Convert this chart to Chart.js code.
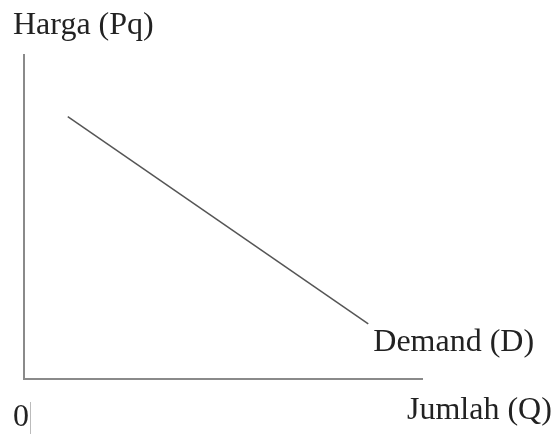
<!DOCTYPE html>
<html>
<head>
<meta charset="utf-8">
<script src="https://cdn.jsdelivr.net/npm/chart.js@4"></script>
<style>
  html, body { margin: 0; padding: 0; background: #fff; }
  #wrap { width: 557px; height: 434px; position: relative; }
</style>
</head>
<body>
<div id="wrap"><canvas id="demandChart"></canvas></div>
<script>
// kurva permintaan: dua titik ujung (Q, P)
const demandQ = [1.1, 8.65];
const demandP = [8.1, 1.7];
const axisMin = 0;
const axisMax = 10;

const yTitle = 'Harga (Pq)';
const xTitle = 'Jumlah (Q)';
const curveLabel = 'Demand (D)';
const originLabel = '0';

const serif = '"Liberation Serif", "Times New Roman", serif';

// label teks manual (posisi di sekitar sumbu)
const labelPlugin = {
    id: 'labelPlugin',
    afterDraw(chart) {
        const { ctx, chartArea, scales } = chart;
        const xs = scales.x, ys = scales.y;
        ctx.save();
        ctx.fillStyle = '#222';
        ctx.textBaseline = 'alphabetic';
        ctx.textAlign = 'left';
        ctx.font = '32px ' + serif;
        ctx.fillText(yTitle, chartArea.left - 11, chartArea.top - 21);

        const endX = xs.getPixelForValue(demandQ[demandQ.length - 1]);
        const endY = ys.getPixelForValue(demandP[demandP.length - 1]);
        ctx.fillText(curveLabel, endX + 5, endY + 27);

        ctx.fillText(xTitle, chartArea.right - 15, chartArea.bottom + 40);

        ctx.fillText(originLabel, chartArea.left - 11, chartArea.bottom + 47);

        // garis tipis di samping angka 0
        ctx.strokeStyle = '#bbb';
        ctx.lineWidth = 1;
        ctx.beginPath();
        ctx.moveTo(chartArea.left + 6.5, chartArea.bottom + 23);
        ctx.lineTo(chartArea.left + 6.5, chartArea.bottom + 55);
        ctx.stroke();
        ctx.restore();
    }
};

new Chart(document.getElementById('demandChart'), {
    type: 'scatter',
    data: {
        datasets: [{
            data: demandQ.map((q, i) => ({ x: q, y: demandP[i] })),
            showLine: true,
            borderColor: '#555',
            borderWidth: 1.5,
            pointRadius: 0,
            fill: false,
        }],
    },
    options: {
        responsive: true,
        maintainAspectRatio: false,
        animation: false,
        layout: { padding: { left: 24, top: 55, right: 135, bottom: 55 } },
        plugins: {
            legend: { display: false },
            tooltip: { enabled: false },
        },
        scales: {
            x: {
                type: 'linear',
                min: axisMin,
                max: axisMax,
                grid: { display: false, drawTicks: false },
                border: { display: true, color: '#8a8a8a', width: 2 },
                ticks: { display: false },
                afterFit: s => { s.height = 0; },
            },
            y: {
                type: 'linear',
                min: axisMin,
                max: axisMax,
                grid: { display: false, drawTicks: false },
                border: { display: true, color: '#8a8a8a', width: 2 },
                ticks: { display: false },
                afterFit: s => { s.width = 0; },
            },
        },
    },
    plugins: [labelPlugin],
});
</script>
</body>
</html>
